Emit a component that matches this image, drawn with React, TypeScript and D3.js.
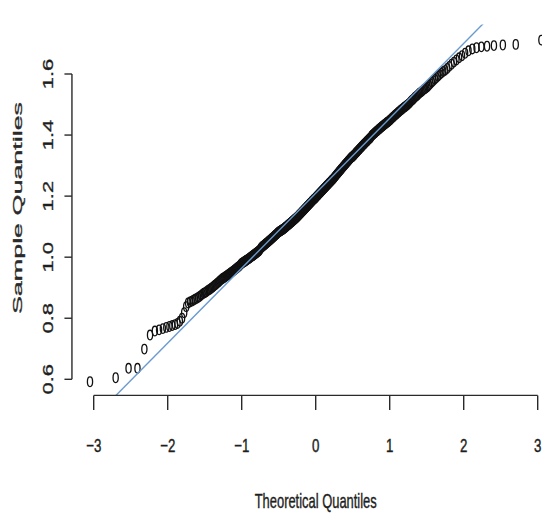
import React from "react";
import * as d3 from "d3";

// Sorted sample quantiles (n = 437)
const sampleLowerTail = [
  0.592, 0.605, 0.636, 0.636, 0.699, 0.745, 0.758, 0.762, 0.766, 0.77,
  0.773, 0.776, 0.779, 0.783, 0.79, 0.8, 0.818, 0.838, 0.85, 0.853,
  0.856, 0.859, 0.862, 0.865, 0.868, 0.871, 0.875, 0.879, 0.882,
  0.884, 0.887, 0.89, 0.893, 0.895, 0.898, 0.901, 0.904, 0.907, 0.91, 0.913, 0.916, 0.919, 0.922, 0.925, 0.928, 0.93,
  0.932, 0.934, 0.936, 0.938, 0.94, 0.942, 0.944, 0.946, 0.948, 0.95, 0.952, 0.954, 0.956, 0.958, 0.96, 0.962, 0.964, 0.966, 0.968, 0.97, 0.972, 0.975, 0.978,
];

const sampleCentre = [
  0.98, 0.981, 0.983, 0.984, 0.986, 0.987, 0.989, 0.99, 0.992, 0.993, 0.995, 0.996, 0.998, 0.999, 1.001, 1.002, 1.004, 1.005, 1.007, 1.008, 1.01, 1.011, 1.013, 1.014, 1.016, 1.017, 1.019, 1.02, 1.022, 1.024,
  1.028, 1.03, 1.032, 1.034, 1.035, 1.037, 1.038, 1.04, 1.041, 1.043, 1.044, 1.046, 1.047, 1.049, 1.05, 1.052, 1.053, 1.055, 1.056, 1.058, 1.059, 1.061, 1.062, 1.064, 1.065, 1.067, 1.068, 1.07, 1.071, 1.073, 1.074, 1.076, 1.077, 1.079, 1.08, 1.082,
  1.083, 1.084, 1.085, 1.086, 1.087, 1.088, 1.089, 1.09, 1.091, 1.092, 1.093, 1.094, 1.096, 1.097, 1.098, 1.099, 1.101, 1.102, 1.103, 1.105, 1.106, 1.107, 1.108, 1.11, 1.111, 1.112, 1.114, 1.115, 1.116, 1.117, 1.119, 1.12, 1.121, 1.123, 1.124, 1.125, 1.126, 1.128, 1.129, 1.13,
  1.132, 1.133, 1.135, 1.136, 1.138, 1.139, 1.141, 1.142, 1.144, 1.145, 1.147, 1.148, 1.15, 1.151, 1.153, 1.154, 1.156, 1.157, 1.159, 1.16, 1.162, 1.163, 1.165, 1.166, 1.168, 1.169, 1.171, 1.172, 1.174, 1.175, 1.177, 1.178, 1.18, 1.181, 1.183, 1.184, 1.186, 1.187, 1.189, 1.19, 1.191, 1.192, 1.194, 1.195,
  1.197, 1.198, 1.2, 1.201, 1.203, 1.204, 1.206, 1.207, 1.209, 1.21, 1.212, 1.213, 1.215, 1.216, 1.218, 1.219, 1.221, 1.222, 1.224, 1.225, 1.227, 1.228, 1.23, 1.231, 1.233, 1.234, 1.236, 1.237, 1.239, 1.24, 1.242, 1.243, 1.245, 1.246, 1.248, 1.249, 1.251, 1.252, 1.254, 1.255, 1.257, 1.258, 1.26,
  1.262, 1.264, 1.266, 1.267, 1.269, 1.271, 1.273, 1.274, 1.276, 1.278, 1.28, 1.281, 1.283, 1.285, 1.287, 1.288, 1.29, 1.292, 1.294, 1.295, 1.297, 1.299, 1.301, 1.302, 1.304, 1.306, 1.308, 1.309, 1.311, 1.313, 1.315, 1.316, 1.318, 1.32, 1.322, 1.323, 1.325, 1.327, 1.328, 1.329,
  1.33, 1.332, 1.334, 1.335, 1.337, 1.339, 1.341, 1.343, 1.344, 1.346, 1.348, 1.35, 1.352, 1.353, 1.355, 1.357, 1.359, 1.361, 1.362, 1.364, 1.366, 1.368, 1.37, 1.371, 1.373, 1.375, 1.377, 1.379, 1.38, 1.382, 1.384, 1.386, 1.388, 1.389, 1.391, 1.393,
  1.397, 1.399, 1.4, 1.402, 1.404, 1.406, 1.407, 1.409, 1.411, 1.413, 1.414, 1.416, 1.418, 1.42, 1.421, 1.423, 1.425, 1.427, 1.428, 1.43, 1.432, 1.434, 1.435, 1.437, 1.439, 1.441, 1.442, 1.444, 1.446, 1.448,
];

const sampleUpperTail = [
  1.45, 1.452, 1.455, 1.457, 1.459, 1.461, 1.464, 1.466, 1.468, 1.47, 1.473, 1.475, 1.477, 1.48, 1.482, 1.484, 1.486, 1.489, 1.491, 1.493, 1.495, 1.498, 1.5,
  1.503, 1.506, 1.51, 1.513, 1.516, 1.519, 1.523, 1.526, 1.529, 1.532, 1.536, 1.539, 1.542, 1.545, 1.549, 1.552, 1.555,
  1.558, 1.563, 1.568, 1.573, 1.578, 1.583, 1.588, 1.593, 1.598, 1.603, 1.608, 1.612,
  1.618, 1.625, 1.632, 1.639, 1.646, 1.653, 1.66,
  1.668, 1.676, 1.682, 1.686, 1.689, 1.691, 1.693, 1.695, 1.697, 1.711,
];

const xTickValues = [-3, -2, -1, 0, 1, 2, 3];
const xTickLabels = ["\u22123", "\u22122", "\u22121", "0", "1", "2", "3"];
const yTickValues = [0.6, 0.8, 1.0, 1.2, 1.4, 1.6];
const yTickLabels = ["0.6", "0.8", "1.0", "1.2", "1.4", "1.6"];
const xTitle = "Theoretical Quantiles";
const yTitle = "Sample Quantiles";

// Inverse standard normal CDF (Acklam)
function qnorm(p: number): number {
  const a = [-3.969683028665376e1, 2.209460984245205e2, -2.759285104469687e2, 1.38357751867269e2, -3.066479806614716e1, 2.506628277459239];
  const b = [-5.447609879822406e1, 1.615858368580409e2, -1.556989798598866e2, 6.680131188771972e1, -1.328068155288572e1];
  const c = [-7.784894002430293e-3, -3.223964580411365e-1, -2.400758277161838, -2.549732539343734, 4.374664141464968, 2.938163982698783];
  const d = [7.784695709041462e-3, 3.224671290700398e-1, 2.445134137142996, 3.754408661907416];
  const pl = 0.02425;
  if (p < pl) {
    const q = Math.sqrt(-2 * Math.log(p));
    return (((((c[0] * q + c[1]) * q + c[2]) * q + c[3]) * q + c[4]) * q + c[5]) / ((((d[0] * q + d[1]) * q + d[2]) * q + d[3]) * q + 1);
  }
  if (p > 1 - pl) {
    const q = Math.sqrt(-2 * Math.log(1 - p));
    return -(((((c[0] * q + c[1]) * q + c[2]) * q + c[3]) * q + c[4]) * q + c[5]) / ((((d[0] * q + d[1]) * q + d[2]) * q + d[3]) * q + 1);
  }
  const q = p - 0.5;
  const r = q * q;
  return ((((((a[0] * r + a[1]) * r + a[2]) * r + a[3]) * r + a[4]) * r + a[5]) * q) / (((((b[0] * r + b[1]) * r + b[2]) * r + b[3]) * r + b[4]) * r + 1);
}

const FONT = "'Liberation Sans', Arial, Helvetica, sans-serif";

export default function App() {
  const sample = [...sampleLowerTail, ...sampleCentre, ...sampleUpperTail].sort(d3.ascending);
  const n = sample.length;
  const aa = n <= 10 ? 3 / 8 : 0.5;
  const theo = sample.map((_, i) => qnorm((i + 1 - aa) / (n + 1 - 2 * aa)));

  const x = d3.scaleLinear().domain([-3, 3]).range([93.7, 537.7]);
  const y = d3.scaleLinear().domain([0.6, 1.6]).range([379.3, 74]);

  const [tx0, tx1] = d3.extent(theo) as [number, number];
  const [sy0, sy1] = d3.extent(sample) as [number, number];
  const dxr = (tx1 - tx0) * 0.04;
  const dyr = (sy1 - sy0) * 0.04;
  const left = x(tx0 - dxr);
  const right = x(tx1 + dxr);
  const top = y(sy1 + dyr);
  const bottom = y(sy0 - dyr);

  const q1 = d3.quantile(sample, 0.25) as number;
  const q3 = d3.quantile(sample, 0.75) as number;
  const z1 = qnorm(0.25);
  const z3 = qnorm(0.75);
  const slope = (q3 - q1) / (z3 - z1);
  const intercept = q1 - slope * z1;
  const lx0 = tx0 - dxr - 1;
  const lx1 = tx1 + dxr + 1;

  const axisColor = "#2a2a2a";
  const axisY = bottom;
  const axisX = left;
  const textFill = "#1e1e1e";

  return (
    <svg width={542} height={517} style={{ position: "absolute", left: 0, top: 0, background: "#fff" }}>
      <defs>
        <clipPath id="plotClip">
          <rect x={left} y={top - 2} width={right - left} height={bottom - top + 2} />
        </clipPath>
      </defs>
      <rect x={0} y={0} width={542} height={517} fill="#fff" />

      {/* points */}
      <g fill="none" stroke="#111" strokeWidth={1.3}>
        {sample.map((v, i) => (
          <ellipse key={i} cx={x(theo[i])} cy={y(v)} rx={2.6} ry={4.8} />
        ))}
      </g>

      {/* qq line */}
      <line
        clipPath="url(#plotClip)"
        x1={x(lx0)}
        y1={y(intercept + slope * lx0)}
        x2={x(lx1)}
        y2={y(intercept + slope * lx1)}
        stroke="#6a9bd0"
        strokeWidth={1.4}
      />

      {/* x axis */}
      <g stroke={axisColor} strokeWidth={1.4}>
        <line x1={x(xTickValues[0])} x2={x(xTickValues[xTickValues.length - 1])} y1={axisY} y2={axisY} />
        {xTickValues.map((t) => (
          <line key={t} x1={x(t)} x2={x(t)} y1={axisY} y2={axisY + 14.5} />
        ))}
      </g>
      {xTickValues.map((t, i) => (
        <text
          key={t}
          transform={`translate(${x(t)},451.5) scale(0.7,1)`}
          textAnchor="middle"
          fontFamily={FONT}
          fontSize={19}
          fill={textFill}
          stroke={textFill}
          strokeWidth={0.45}
        >
          {xTickLabels[i]}
        </text>
      ))}
      <text
        transform={`translate(${(left + right) / 2},508.3) scale(0.646,1)`}
        textAnchor="middle"
        fontFamily={FONT}
        fontSize={20}
        fill={textFill}
        stroke={textFill}
        strokeWidth={0.4}
      >
        {xTitle}
      </text>

      {/* y axis */}
      <g stroke={axisColor} strokeWidth={1.4}>
        <line x1={axisX} x2={axisX} y1={y(yTickValues[0])} y2={y(yTickValues[yTickValues.length - 1])} />
        {yTickValues.map((t) => (
          <line key={t} x1={axisX} x2={axisX - 7.5} y1={y(t)} y2={y(t)} />
        ))}
      </g>
      {yTickValues.map((t, i) => (
        <text
          key={t}
          transform={`translate(53.3,${y(t)}) rotate(-90) scale(1.57,1)`}
          textAnchor="middle"
          fontFamily={FONT}
          fontSize={14}
          fill={textFill}
          stroke={textFill}
          strokeWidth={0.3}
        >
          {yTickLabels[i]}
        </text>
      ))}
      <text
        transform={`translate(22,208) rotate(-90) scale(2.1,1)`}
        textAnchor="middle"
        fontFamily={FONT}
        fontSize={12.8}
        fill="#2a2a2a"
        stroke="#2a2a2a"
        strokeWidth={0.3}
      >
        {yTitle}
      </text>
    </svg>
  );
}
